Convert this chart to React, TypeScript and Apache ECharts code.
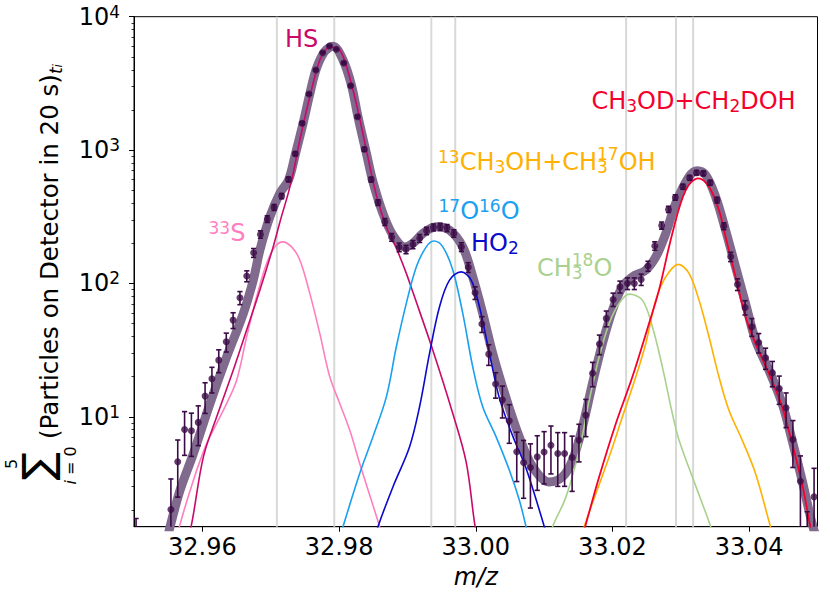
import React, { useEffect, useRef } from "react";
import * as echarts from "echarts";

const FONT = "DejaVu Sans";

const binX = [
  32.9503, 32.9513, 32.9523, 32.9533, 32.9543, 32.9554, 32.9564, 32.9574, 32.9584, 32.9594,
  32.9604, 32.9614, 32.9624, 32.9635, 32.9645, 32.9655, 32.9665, 32.9675, 32.9685, 32.9695,
  32.9705, 32.9716, 32.9726, 32.9736, 32.9746, 32.9756, 32.9766, 32.9776, 32.9786, 32.9796,
  32.9807, 32.9817, 32.9827, 32.9837, 32.9847, 32.9857, 32.9867, 32.9877, 32.9888, 32.9898,
  32.9908, 32.9918, 32.9928, 32.9938, 32.9948, 32.9958, 32.9968, 32.9979, 32.9989, 32.9999,
  33.0009, 33.0019, 33.0029, 33.0039, 33.0049, 33.006, 33.007, 33.008, 33.009, 33.01,
  33.011, 33.012, 33.013, 33.0141, 33.0151, 33.0161, 33.0171, 33.0181, 33.0191, 33.0201,
  33.0211, 33.0222, 33.0232, 33.0242, 33.0252, 33.0262, 33.0272, 33.0282, 33.0292, 33.0303,
  33.0313, 33.0323, 33.0333, 33.0343, 33.0353, 33.0363, 33.0373, 33.0383, 33.0394, 33.0404,
  33.0414, 33.0424, 33.0434, 33.0444, 33.0454, 33.0464, 33.0475, 33.0485, 33.0495,
];
const counts = [
  1, null, null, null, null, 2.02, 4.6, 8.04, 7.85, 9.08,
  14.3, 19.3, 26.6, 36.5, 53.1, 78.1, 113.6, 169.8, 233, 304,
  372, 452, 603, 939, 1587, 2632, 3984, 5371, 6030, 5694,
  4495, 3038, 1778, 1013, 601, 404, 289, 222, 187, 180,
  196, 218, 248, 263, 266, 260, 237, 188, 132, 85.1,
  49.6, 29.5, 17.6, 13.4, 9.33, 5.47, 4.55, 4.17, 5.01, 5.44,
  6.13, 5.31, 5.31, 4.96, 6.69, 10.3, 21.2, 35.1, 54.7, 75.9,
  94.4, 100, 100, 107, 135, 191, 272, 359, 441, 531,
  620, 676, 669, 569, 422, 269, 158.5, 98.4, 66.1, 47.3,
  36.1, 27.7, 21.4, 16.3, 11.7, 6.77, 3.29, 1, 2.51,
];
const countErr = [
  0.73, null, null, null, null, 1.4, 2.1, 2.9, 2.8, 3.0,
  3.7, 4.2, 5.2, 5.9, 7.2, 8.8, 10.7, 13, 15, 17,
  19, 21, 25, 31, 40, 51, 63, 73, 78, 75,
  67, 55, 42, 32, 24, 20, 17, 15, 14, 13,
  14, 15, 16, 16, 16, 16, 15, 14, 11, 9.2,
  6.7, 5.2, 3.8, 3.6, 3.0, 2.2, 2.1, 2.1, 2.2, 2.3,
  2.4, 2.3, 2.3, 2.2, 2.1, 3.2, 4.4, 5.9, 7.4, 8.7,
  9.7, 10, 10, 10.4, 11.6, 13.8, 16.5, 19, 21, 23,
  25, 26, 26, 24, 20.5, 16.4, 12.6, 9.9, 8.1, 7.2,
  6.0, 5.0, 4.6, 3.9, 3.4, 2.6, 1.8, 0.94, 1.6,
];

const sumX = [
  32.9547, 32.95528, 32.95674, 32.95869, 32.96112, 32.96356, 32.96599, 32.96745, 32.96842, 32.96988,
  32.97134, 32.97261, 32.97364, 32.97474, 32.97572, 32.9767, 32.97791, 32.97912, 32.98058, 32.98181,
  32.98277, 32.984, 32.98496, 32.98642, 32.98788, 32.98959, 32.9908, 32.99226, 32.99422, 32.99616,
  32.9981, 32.99956, 33.00102, 33.00248, 33.00444, 33.00638, 33.00832, 33.01073, 33.0127, 33.01416,
  33.01562, 33.01708, 33.01854, 33.02, 33.02146, 33.02292, 33.02488, 33.02634, 33.0278, 33.02926,
  33.0312, 33.03241, 33.03364, 33.03509, 33.03655, 33.03801, 33.03947, 33.04093, 33.04288, 33.04482,
  33.04628, 33.04774, 33.0492, 33.05018,
];
const sumY = [
  1.09, 1.5, 2.82, 5.31, 12.6, 28.2, 59.6, 106, 178, 316,
  474, 596, 945, 1587, 2632, 4102, 5500, 6000, 4735, 3074,
  1778, 945, 579, 335, 230, 188, 200, 237, 266, 251,
  188, 112, 59.6, 29.9, 13.8, 7.04, 4.22, 3.25, 3.55, 4.73,
  8.41, 17.8, 35.5, 63.1, 94.4, 112, 126, 158, 237, 399,
  631, 700, 650, 447, 251, 133, 70.9, 37.6, 22.4, 12.6,
  6.69, 3.35, 1.59, 1.09,
];

const s33X = [32.95604, 32.95664, 32.95869, 32.96064, 32.9621, 32.96356, 32.96502, 32.96648, 32.96794, 32.9694, 32.97061, 32.97174, 32.97305, 32.97426, 32.97572, 32.97718, 32.97864, 32.9801, 32.98156, 32.98302, 32.98448, 32.98594, 32.98667];
const s33Y = [1.09, 1.5, 3.35, 6.32, 8.92, 12.6, 18.8, 39.8, 79.4, 141, 188, 205, 188, 150, 84.2, 42.2, 19.95, 12.6, 7.95, 4.47, 2.59, 1.5, 1.09];

const hsX = [32.95747, 32.95835, 32.96015, 32.9621, 32.96453, 32.96648, 32.96842, 32.97036, 32.97134, 32.97261, 32.97328, 32.97426, 32.97572, 32.97718, 32.97816, 32.97912, 32.9801, 32.98108, 32.98254, 32.984, 32.98546, 32.98692, 32.98838, 32.98984, 32.9908, 32.99372, 32.99664, 32.9986, 32.99991, 33.00054];
const hsY = [1.09, 1.5, 5.01, 10.0, 22.4, 44.7, 89.2, 188, 288, 484, 669, 1189, 2512, 4735, 5722, 5900, 5627, 4268, 2214, 1000, 460, 266, 184, 119, 86.1, 31.6, 10.6, 4.57, 1.5, 1.09];

const o17X = [32.97981, 32.98058, 32.98302, 32.98496, 32.98692, 32.98838, 32.98984, 32.9913, 32.99276, 32.99387, 32.99518, 32.99664, 32.9981, 32.99956, 33.00102, 33.00298, 33.00492, 33.00638, 33.00736, 33.00799];
const o17Y = [1.09, 1.5, 3.76, 7.08, 14.1, 33.5, 70.9, 133, 188, 208, 188, 126, 59.6, 23.7, 11.9, 7.08, 3.98, 2.37, 1.5, 1.09];

const ho2X = [32.98492, 32.98569, 32.98788, 32.99032, 32.99178, 32.99324, 32.9947, 32.99616, 32.99787, 32.99933, 33.00054, 33.002, 33.00346, 33.00536, 33.00736, 33.01003, 33.01076];
const ho2Y = [1.09, 1.5, 2.98, 5.96, 11.9, 29.9, 66.8, 106, 122, 106, 66.8, 29.9, 13.8, 7.29, 4.12, 1.5, 1.09];

const ch318X = [33.01047, 33.01124, 33.0132, 33.01514, 33.0166, 33.01806, 33.01952, 33.02098, 33.02244, 33.02438, 33.02584, 33.0273, 33.02876, 33.02974, 33.03168, 33.03314, 33.03437, 33.03514];
const ch318Y = [1.09, 1.5, 2.51, 5.63, 13.3, 28.2, 50.1, 70.9, 83.2, 75.0, 47.3, 23.7, 10.6, 6.69, 3.55, 2.24, 1.5, 1.09];

const c13X = [33.01514, 33.01587, 33.01758, 33.01952, 33.02146, 33.02342, 33.02488, 33.02634, 33.0278, 33.02964, 33.0312, 33.03266, 33.03412, 33.03558, 33.03704, 33.03898, 33.04093, 33.04312, 33.0439];
const c13Y = [1.09, 1.5, 2.66, 5.01, 10.0, 19.95, 35.5, 75.0, 112, 139, 119, 75.0, 39.8, 19.95, 11.2, 6.69, 3.76, 1.5, 1.09];

const ch3odX = [33.01528, 33.01601, 33.01806, 33.0205, 33.02292, 33.02535, 33.02681, 33.02876, 33.03072, 33.03255, 33.03412, 33.03558, 33.03655, 33.03801, 33.03947, 33.04093, 33.04288, 33.04482, 33.04628, 33.04774, 33.04896, 33.04959];
const ch3odY = [1.09, 1.5, 3.55, 8.92, 19.95, 50.1, 89.2, 237, 501, 614, 531, 355, 224, 112, 56.2, 35.5, 21.2, 11.9, 6.32, 3.17, 1.5, 1.09];

const peakPositions = [32.9709, 32.9793, 32.9935, 32.997, 33.022, 33.0293, 33.0318];
const xTicks = [32.96, 32.98, 33.0, 33.02, 33.04];
const yMajor = [10, 100, 1000, 10000];
const yMinor = [2, 3, 4, 5, 6, 7, 8, 9, 20, 30, 40, 50, 60, 70, 80, 90, 200, 300, 400, 500, 600, 700, 800, 900, 2000, 3000, 4000, 5000, 6000, 7000, 8000, 9000];

// ---- styles ----
const PT = "#3b0b46";
const SUM = "#806a8d";
const C_S33 = "#ff7fbf";
const C_HS = "#c80a6a";
const C_O17 = "#1aa0f0";
const C_HO2 = "#0a0acd";
const C_CH318 = "#a9d18e";
const C_C13 = "#ffb000";
const C_CH3OD = "#f5002d";

const pairs = (xs: number[], ys: number[]) => xs.map((x, i) => [x, ys[i]]);

const lineSeries = (name: string, xs: number[], ys: number[], color: string, width: number, z: number) => ({
  type: "line",
  name,
  data: pairs(xs, ys),
  smooth: 0.35,
  showSymbol: false,
  symbol: "none",
  silent: true,
  clip: true,
  z,
  lineStyle: { color, width, cap: "round", join: "round" },
});

const richFor = (color: string) => ({
  m: { fontSize: 24, lineHeight: 27, fill: color, color, fontFamily: FONT, verticalAlign: "middle" },
  b: { fontSize: 17, lineHeight: 15, fill: color, color, fontFamily: FONT, verticalAlign: "bottom" },
  s: { fontSize: 17, lineHeight: 12, fill: color, color, fontFamily: FONT, verticalAlign: "top" },
  g: { fontSize: 17, lineHeight: 15, width: 10.8, fill: color, color, fontFamily: FONT },
});

const label = (x: number, y: number, text: string, color: string) => ({
  type: "text",
  x,
  y,
  z: 100,
  silent: true,
  style: { text, rich: richFor(color), align: "left", verticalAlign: "middle", fill: color, fontFamily: FONT, fontSize: 24 },
});

const plain = (x: number, y: number, text: string, color: string, size: number) => ({
  type: "text",
  x,
  y,
  z: 100,
  silent: true,
  style: { text, fill: color, fontFamily: FONT, fontSize: size, align: "left", verticalAlign: "middle" },
});

export default function App() {
  const ref = useRef<HTMLDivElement>(null);
  useEffect(() => {
    if (!ref.current) return;
    const chart = echarts.init(ref.current, undefined, { renderer: "svg" });

    const pointData: number[][] = [];
    binX.forEach((x, i) => {
      if (counts[i] != null) pointData.push([x, counts[i] as number, countErr[i] as number]);
    });

    const option: any = {
      animation: false,
      backgroundColor: "#ffffff",
      textStyle: { fontFamily: FONT },
      grid: {
        left: 134,
        right: 12.5,
        top: 16.7,
        bottom: 70.3,
        show: true,
        borderColor: "#000",
        borderWidth: 1,
        backgroundColor: "transparent",
        containLabel: false,
        outerBoundsMode: "none",
      },
      xAxis: {
        type: "value",
        min: 32.95,
        max: 33.05,
        axisLine: { show: true, onZero: false, lineStyle: { color: "#000", width: 1 } },
        axisTick: { show: true, customValues: xTicks, length: 5, lineStyle: { color: "#000", width: 1 } },
        axisLabel: {
          customValues: xTicks,
          formatter: (v: number) => v.toFixed(2),
          fontSize: 24,
          color: "#000",
          margin: 8,
          fontFamily: FONT,
        },
        splitLine: { show: false },
        name: "m/z",
        nameLocation: "middle",
        nameGap: 38,
        nameTextStyle: { fontStyle: "italic", fontSize: 24, color: "#000", fontFamily: FONT },
      },
      yAxis: [
        {
          type: "log",
          logBase: 10,
          min: 1.5,
          max: 10000,
          axisLine: { show: true, onZero: false, lineStyle: { color: "#000", width: 1 } },
          axisTick: { show: true, customValues: yMajor, length: 5, lineStyle: { color: "#000", width: 1 } },
          axisLabel: {
            customValues: yMajor,
            margin: 14,
            formatter: (v: number) => `{b|10}{s|${Math.round(Math.log10(v))}}`,
            rich: {
              b: { fontSize: 24, lineHeight: 27, color: "#000", fontFamily: FONT, verticalAlign: "middle" },
              s: { fontSize: 17, lineHeight: 12, color: "#000", fontFamily: FONT, verticalAlign: "top" },
            },
          },
          splitLine: { show: false },
        },
        {
          type: "log",
          logBase: 10,
          min: 1.5,
          max: 10000,
          position: "left",
          axisLine: { show: false },
          axisTick: { show: true, customValues: yMinor, length: 2.5, lineStyle: { color: "#000", width: 0.8 } },
          axisLabel: { show: false },
          splitLine: { show: false },
        },
      ],
      series: [
        {
          type: "custom",
          name: "peaks",
          silent: true,
          z: 1,
          data: peakPositions.map((x) => [x, 100]),
          encode: { x: 0, y: 1 },
          renderItem: (params: any, api: any) => {
            const cs = params.coordSys;
            const px = api.coord([api.value(0), 100])[0];
            return {
              type: "line",
              shape: { x1: px, y1: cs.y, x2: px, y2: cs.y + cs.height },
              style: { stroke: "#d6dad6", lineWidth: 2 },
            };
          },
        },
        lineSeries("sum", sumX, sumY, SUM, 9, 2),
        lineSeries("33S", s33X, s33Y, C_S33, 1.6, 3),
        lineSeries("HS", hsX, hsY, C_HS, 1.6, 3),
        lineSeries("17O16O", o17X, o17Y, C_O17, 1.6, 3),
        lineSeries("HO2", ho2X, ho2Y, C_HO2, 1.6, 3),
        lineSeries("CH3_18O", ch318X, ch318Y, C_CH318, 1.6, 3),
        lineSeries("13CH3OH", c13X, c13Y, C_C13, 1.6, 3),
        lineSeries("CH3OD", ch3odX, ch3odY, C_CH3OD, 1.8, 3),
        {
          type: "custom",
          name: "errors",
          silent: true,
          clip: true,
          z: 5,
          data: pointData,
          encode: { x: 0, y: 1 },
          renderItem: (params: any, api: any) => {
            const x = api.value(0);
            const y = api.value(1);
            const e = api.value(2);
            const top = api.coord([x, y + e]);
            const bot = api.coord([x, Math.max(y - e, 0.05)]);
            const c = 2.6;
            const st = { stroke: PT, lineWidth: 1.6 };
            return {
              type: "group",
              children: [
                { type: "line", shape: { x1: top[0], y1: top[1], x2: bot[0], y2: bot[1] }, style: st },
                { type: "line", shape: { x1: top[0] - c, y1: top[1], x2: top[0] + c, y2: top[1] }, style: st },
                { type: "line", shape: { x1: bot[0] - c, y1: bot[1], x2: bot[0] + c, y2: bot[1] }, style: st },
              ],
            };
          },
        },
        {
          type: "scatter",
          name: "data",
          silent: true,
          z: 6,
          symbol: "circle",
          symbolSize: 7,
          itemStyle: { color: PT },
          data: pointData.map((p) => [p[0], p[1]]),
        },
      ],
      graphic: {
        elements: [
          label(285, 39, "{m|HS}", C_HS),
          label(208.5, 233, "{s|33}{m|S}", C_S33),
          label(438.5, 211, "{s|17}{m|O}{s|16}{m|O}", C_O17),
          label(471, 243.3, "{m|HO}{b|2}", C_HO2),
          label(438, 161.5, "{s|13}{m|CH}{b|3}{m|OH+CH}{b|3}{g| }{m|OH}", C_C13),
          plain(597, 154, "17", C_C13, 17),
          label(537, 267.5, "{m|CH}{b|3}{g| }{m|O}", C_CH318),
          plain(571.8, 260, "18", C_CH318, 17),
          label(591.5, 101.3, "{m|CH}{b|3}{m|OD+CH}{b|2}{m|DOH}", C_CH3OD),
          {
            type: "group",
            x: 0,
            y: 597,
            rotation: Math.PI / 2,
            silent: true,
            children: [
              {
                type: "text",
                x: 131,
                y: 37,
                style: { text: "\u2211", fontSize: 42, fontFamily: FONT, fill: "#000", align: "center", verticalAlign: "middle" },
              },
              {
                type: "text",
                x: 133,
                y: 11.5,
                style: { text: "5", fontSize: 16, fontFamily: FONT, fill: "#000", align: "center", verticalAlign: "middle" },
              },
              {
                type: "text",
                x: 131.5,
                y: 70,
                style: {
                  text: "{it|i}{n| = 0}",
                  align: "center",
                  verticalAlign: "middle",
                  fontFamily: FONT,
                  fontSize: 16,
                  fill: "#000",
                  rich: {
                    it: { fontSize: 16, fontStyle: "italic", fontFamily: FONT, fill: "#000" },
                    n: { fontSize: 16, fontFamily: FONT, fill: "#000" },
                  },
                },
              },
              {
                type: "text",
                x: 158,
                y: 49,
                style: {
                  text: "{m|(Particles on Detector in 20 s)}{t|t}{i|i}",
                  align: "left",
                  verticalAlign: "middle",
                  fontFamily: FONT,
                  fontSize: 24.5,
                  fill: "#000",
                  rich: {
                    m: { fontSize: 24.5, lineHeight: 30, fontFamily: FONT, fill: "#000", verticalAlign: "middle" },
                    t: { fontSize: 17, lineHeight: 14, fontStyle: "italic", fontFamily: FONT, fill: "#000", verticalAlign: "bottom" },
                    i: { fontSize: 12, lineHeight: 7, fontStyle: "italic", fontFamily: FONT, fill: "#000", verticalAlign: "bottom" },
                  },
                },
              },
            ],
          },
        ],
      },
    };

    chart.setOption(option);
    return () => chart.dispose();
  }, []);

  return <div ref={ref} style={{ position: "absolute", left: 0, top: 0, width: 830, height: 597 }} />;
}
